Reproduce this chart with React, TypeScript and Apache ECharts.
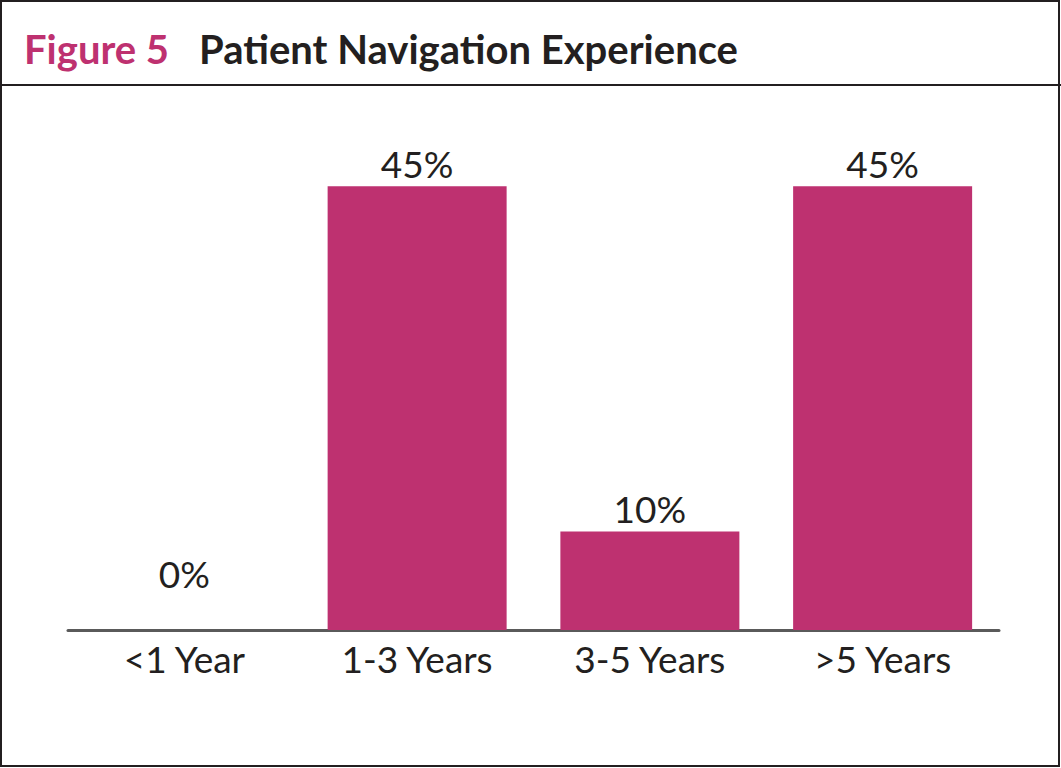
import React, { useEffect, useRef } from "react";
import * as echarts from "echarts";

const categories = ["<1 Year", "1-3 Years", "3-5 Years", ">5 Years"];
const values = [0, 45, 10, 45];
const titleFigure = "Figure 5";
const titleText = "Patient Navigation Experience";

const PINK = "#BE3170";
const DARK = "#231F20";

export default function App() {
  const ref = useRef<HTMLDivElement>(null);
  useEffect(() => {
    if (!ref.current) return;
    const chart = echarts.init(ref.current, null, { renderer: "svg" });
    chart.setOption({
      animation: false,
      backgroundColor: "#ffffff",
      title: {
        text: `{a|${titleFigure}}{gap| }{b|${titleText}}`,
        left: 19,
        top: 19,
        textStyle: {
          rich: {
            a: { fontFamily: "Lato", fontWeight: "bold", fontSize: 40, color: PINK, lineHeight: 50 },
            gap: { fontSize: 40, width: 30, lineHeight: 50 },
            b: { fontFamily: "Lato", fontWeight: "bold", fontSize: 40, color: DARK, lineHeight: 50 },
          },
        },
      },
      graphic: [
        {
          type: "rect",
          shape: { x: 1, y: 1, width: 1058, height: 765 },
          style: { fill: "none", stroke: DARK, lineWidth: 2 },
          silent: true,
        },
        {
          type: "line",
          shape: { x1: 0, y1: 85, x2: 1061, y2: 85 },
          style: { stroke: DARK, lineWidth: 2 },
          silent: true,
        },
      ],
      grid: { left: 68, right: 62, top: 137, bottom: 138, containLabel: false },
      xAxis: {
        type: "category",
        data: categories,
        axisLine: { show: true, lineStyle: { color: "#5A5A5A", width: 3 } },
        axisTick: { show: false },
        axisLabel: { color: DARK, fontFamily: "Lato", fontSize: 37, margin: 10 },
      },
      yAxis: {
        type: "value",
        min: 0,
        max: 50,
        show: false,
        splitLine: { show: false },
      },
      series: [
        {
          type: "bar",
          barWidth: 179,
          data: values.map((v) =>
            v === 0 ? { value: v, label: { distance: 38 } } : { value: v }
          ),
          itemStyle: { color: PINK },
          label: {
            show: true,
            position: "top",
            distance: 4,
            formatter: "{c}%",
            color: DARK,
            fontFamily: "Lato",
            fontSize: 37,
          },
        },
      ],
    });
    return () => chart.dispose();
  }, []);
  return (
    <div
      ref={ref}
      style={{ position: "absolute", left: 0, top: 0, width: 1061, height: 768 }}
    />
  );
}
